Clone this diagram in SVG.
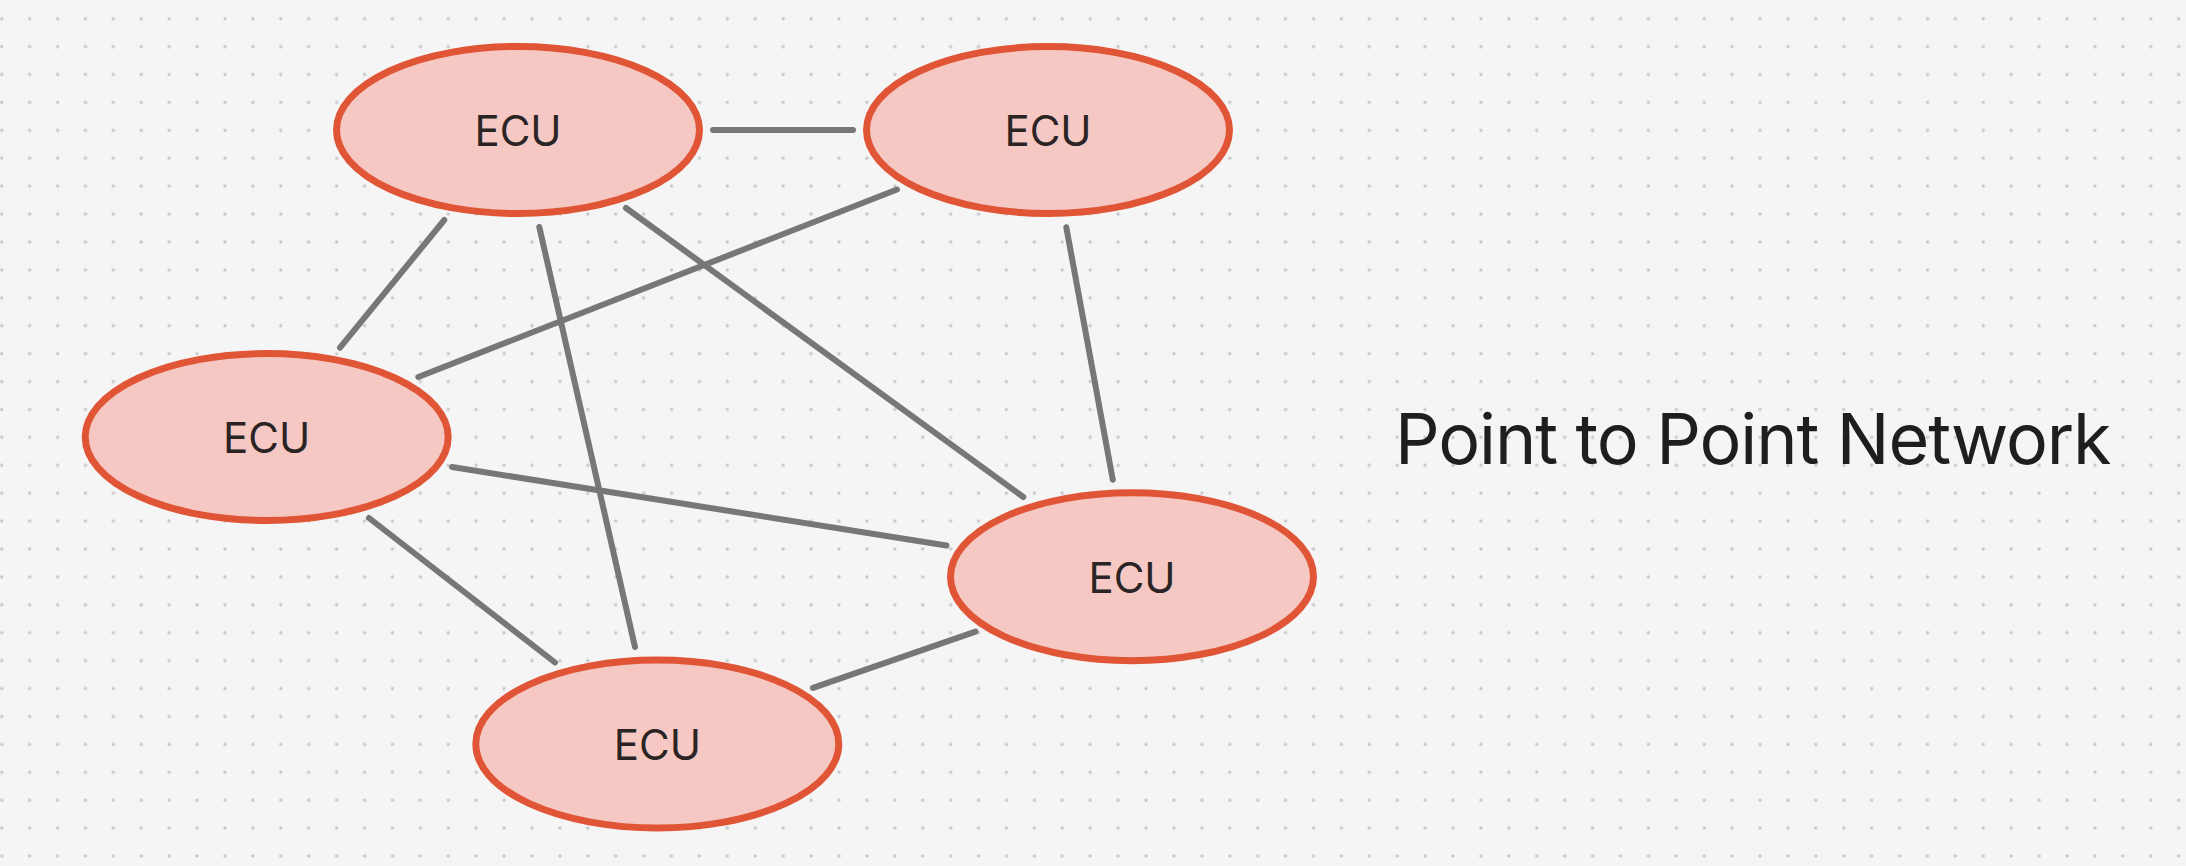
<svg xmlns="http://www.w3.org/2000/svg" width="2186" height="866" viewBox="0 0 2186 866">
<defs>
<pattern id="dots" patternUnits="userSpaceOnUse" x="-12.25" y="4.75" width="27.91" height="27.91">
<circle cx="13.955" cy="13.955" r="1.7" fill="#c8c8c8"/>
</pattern>
<style>
.node ellipse{fill:#f6c8c3;stroke:#e05536;stroke-width:7}
.node text{font-family:Inter,"Liberation Sans",sans-serif;font-size:42px;fill:#2a2424;text-anchor:middle}
#connectors line{stroke:#777777;stroke-width:6;stroke-linecap:round}
.title{font-family:Inter,"Liberation Sans",sans-serif;font-size:70px;fill:#1e1e1e;letter-spacing:-1.1px}
</style>
</defs>
<rect width="2186" height="866" fill="#f5f5f5"/>
<rect width="2186" height="866" fill="url(#dots)"/>
<g id="connectors">
<line x1="713" y1="130" x2="853" y2="130"/>
<line x1="444.3" y1="220" x2="340" y2="347.7"/>
<line x1="539.3" y1="227" x2="635" y2="647"/>
<line x1="626" y1="208" x2="1023.3" y2="497"/>
<line x1="897" y1="189.5" x2="418.3" y2="377"/>
<line x1="1066.3" y1="227.3" x2="1112.8" y2="479.8"/>
<line x1="452" y1="467" x2="946.5" y2="545.5"/>
<line x1="369" y1="518" x2="555" y2="662.5"/>
<line x1="975.5" y1="631.6" x2="813" y2="687.8"/>
</g>
<g id="ecu1" class="node"><ellipse cx="518" cy="130" rx="181.5" ry="83.5"/><text x="518" y="146">ECU</text></g>
<g id="ecu2" class="node"><ellipse cx="1048" cy="130" rx="181.5" ry="83.5"/><text x="1048" y="146">ECU</text></g>
<g id="ecu3" class="node"><ellipse cx="266.7" cy="437" rx="181.5" ry="83.5"/><text x="266.7" y="452.5">ECU</text></g>
<g id="ecu4" class="node"><ellipse cx="1132" cy="576.7" rx="181.5" ry="84"/><text x="1132" y="592.5">ECU</text></g>
<g id="ecu5" class="node"><ellipse cx="657.3" cy="744" rx="181.5" ry="84"/><text x="657.3" y="759.5">ECU</text></g>
<g id="title"><text class="title" x="1395" y="464">Point to Point Network</text></g>
</svg>
